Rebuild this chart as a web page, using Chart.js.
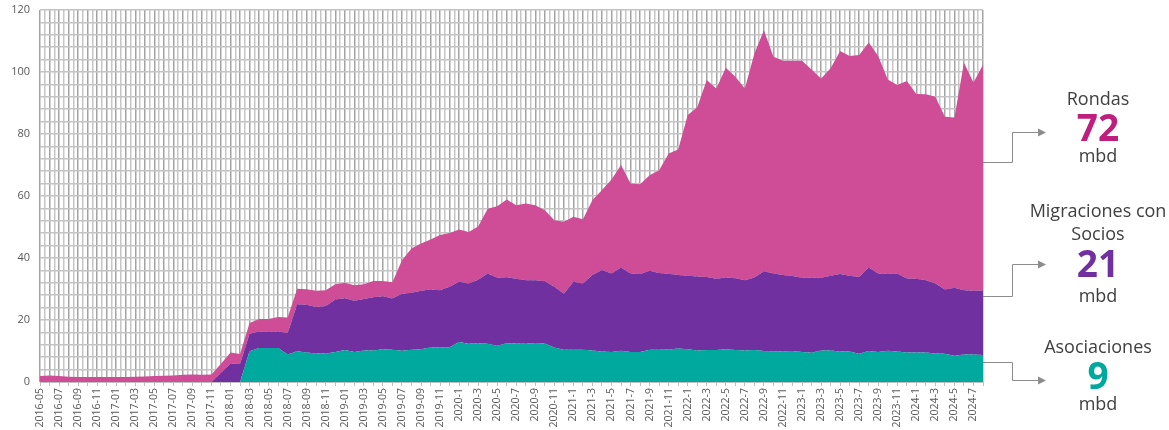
<!DOCTYPE html>
<html>
<head>
<meta charset="utf-8">
<script src="https://cdn.jsdelivr.net/npm/chart.js@4"></script>
<style>
  html, body { margin: 0; padding: 0; background: #ffffff; }
  canvas { display: block; }
</style>
</head>
<body>
<canvas id="chart" width="1169" height="430"></canvas>
<script>
// meses (eje X)
const months = [
  "2016-05","2016-06","2016-07","2016-08","2016-09","2016-10","2016-11","2016-12",
  "2017-01","2017-02","2017-03","2017-04","2017-05","2017-06","2017-07","2017-08","2017-09","2017-10","2017-11","2017-12",
  "2018-01","2018-02","2018-03","2018-04","2018-05","2018-06","2018-07","2018-08","2018-09","2018-10","2018-11","2018-12",
  "2019-01","2019-02","2019-03","2019-04","2019-05","2019-06","2019-07","2019-08","2019-09","2019-10","2019-11","2019-12",
  "2020-1","2020-2","2020-3","2020-4","2020-5","2020-6","2020-7","2020-8","2020-9","2020-10","2020-11","2020-12",
  "2021-1","2021-2","2021-3","2021-4","2021-5","2021-6","2021-7","2021-8","2021-9","2021-10","2021-11","2021-12",
  "2022-1","2022-2","2022-3","2022-4","2022-5","2022-6","2022-7","2022-8","2022-9","2022-10","2022-11","2022-12",
  "2023-1","2023-2","2023-3","2023-4","2023-5","2023-6","2023-7","2023-8","2023-9","2023-10","2023-11","2023-12",
  "2024-1","2024-2","2024-3","2024-4","2024-5","2024-6","2024-7","2024-8"
];

// producción por tipo de contrato (mbd)
const asociaciones = [
  0,0,0,0,0,0,0,0,0,0,
  0,0,0,0,0,0,0,0,0,0,
  0,0,9.9,11.0,11.0,11.0,8.9,9.9,9.5,9.2,
  9.2,9.7,10.3,9.7,10.2,10.2,10.6,10.4,10.1,10.4,
  10.6,11.1,11.2,11.2,12.9,12.3,12.5,12.3,11.7,12.5,
  12.4,12.3,12.6,12.4,11.1,10.4,10.4,10.4,10.2,9.8,
  9.7,10.1,9.7,9.7,10.4,10.4,10.5,10.8,10.6,10.2,
  10.3,10.3,10.6,10.3,10.2,10.3,10.0,9.9,9.9,10.0,
  9.7,9.4,10.2,10.2,9.8,9.8,9.1,10.0,9.7,10.1,
  9.8,9.5,9.5,9.5,9.2,9.1,8.5,8.9,8.9,8.7
];
const socios = [
  0,0,0,0,0,0,0,0,0,0,
  0,0,0,0,0,0,0,0,0,3.0,
  6.0,5.8,5.7,5.3,5.3,5.3,6.9,15.2,15.4,15.0,
  15.3,16.9,16.7,16.5,16.6,17.1,17.1,16.5,18.4,18.4,
  18.8,18.7,18.4,19.5,19.4,19.5,20.5,22.7,21.9,21.3,
  20.9,20.5,20.2,20.1,19.6,18.1,21.9,21.4,24.3,26.3,
  25.3,26.8,25.3,25.1,25.5,24.8,24.4,23.7,23.7,23.8,
  23.6,23.0,23.1,23.2,22.6,23.4,25.7,25.1,24.6,24.2,
  23.9,24.2,23.4,24.1,25.0,24.5,24.8,26.9,25.3,24.9,
  25.2,23.9,23.8,23.3,22.6,20.7,21.9,20.7,20.5,20.8
];
const rondas = [
  1.9,2.1,1.9,1.7,1.6,1.6,1.6,1.6,1.6,1.6,
  1.7,1.8,1.9,2.0,2.1,2.3,2.4,2.3,2.4,2.9,
  3.5,3.2,3.4,4.0,4.0,4.7,5.0,5.0,5.0,5.2,
  5.1,4.9,5.0,5.0,4.7,5.3,4.9,5.3,10.8,14.3,
  15.3,16.2,17.8,17.4,16.9,16.6,17.2,20.9,23.1,25.1,
  23.7,24.8,24.2,22.9,21.5,23.2,21.0,20.7,24.2,25.8,
  30.3,33.1,29.0,29.0,30.8,33.1,38.8,40.5,51.8,54.6,
  63.5,61.4,67.7,65.0,61.9,72.3,77.8,69.9,69.1,69.4,
  70.0,67.2,64.3,66.9,72.0,70.9,71.6,72.6,70.2,62.6,
  60.8,63.7,59.6,60.0,60.2,55.8,54.9,73.4,67.2,72.8
];

// textos de la derecha
const calloutNames = [["Rondas"], ["Migraciones con", "Socios"], ["Asociaciones"]];
const calloutValues = ["72", "21", "9"];

const colTeal = "#00A99D";
const colPurple = "#7030A0";
const colPink = "#CF4D97";

// flechas y etiquetas a la derecha del gráfico
const callouts = {
  id: "callouts",
  afterDraw(chart) {
    const ctx = chart.ctx;
    const y = chart.scales.y;
    const right = chart.chartArea.right;
    const cx = 1098;
    const items = [
      { from: y.getPixelForValue(71), to: 132, color: "#BE1E7E", textY: [100], numY: 130, unitY: 157 },
      { from: y.getPixelForValue(27.9), to: 264, color: colPurple, textY: [212, 235], numY: 266, unitY: 297 },
      { from: y.getPixelForValue(6.4), to: 380, color: colTeal, textY: [348], numY: 378, unitY: 405 }
    ];
    ctx.save();
    items.forEach((it, i) => {
      // conector
      ctx.strokeStyle = "#8c8c8c";
      ctx.lineWidth = 1;
      ctx.beginPath();
      ctx.moveTo(right, Math.round(it.from) + 0.5);
      ctx.lineTo(1012.5, Math.round(it.from) + 0.5);
      ctx.lineTo(1012.5, it.to + 0.5);
      ctx.lineTo(1039, it.to + 0.5);
      ctx.stroke();
      ctx.fillStyle = "#8c8c8c";
      ctx.beginPath();
      ctx.moveTo(1046, it.to + 0.5);
      ctx.lineTo(1038, it.to - 3.5);
      ctx.lineTo(1038, it.to + 4.5);
      ctx.closePath();
      ctx.fill();

      // textos
      ctx.textAlign = "center";
      ctx.textBaseline = "middle";
      ctx.fillStyle = "#404040";
      ctx.font = "18px 'Open Sans'";
      calloutNames[i].forEach((t, k) => ctx.fillText(t, cx, it.textY[k]));
      ctx.fillText("mbd", cx, it.unitY);
      ctx.fillStyle = it.color;
      ctx.font = "bold 37px 'Open Sans'";
      ctx.fillText(calloutValues[i], cx, it.numY);
    });
    ctx.restore();
  }
};

Chart.defaults.font.family = "'Open Sans', sans-serif";

new Chart(document.getElementById("chart"), {
  type: "line",
  data: {
    labels: months,
    datasets: [
      { label: "Asociaciones", data: asociaciones, backgroundColor: colTeal, fill: "origin" },
      { label: "Migraciones con Socios", data: socios, backgroundColor: colPurple, fill: "-1" },
      { label: "Rondas", data: rondas, backgroundColor: colPink, fill: "-1" }
    ]
  },
  options: {
    responsive: false,
    animation: false,
    events: [],
    layout: { padding: { top: 10, right: 186, left: 0, bottom: 0 } },
    elements: {
      line: { borderWidth: 0, tension: 0 },
      point: { radius: 0 }
    },
    plugins: {
      legend: { display: false },
      tooltip: { enabled: false }
    },
    scales: {
      x: {
        type: "category",
        grid: { drawOnChartArea: false, color: "#bfbfbf", tickLength: 4 },
        border: { color: "#bfbfbf" },
        ticks: {
          autoSkip: false,
          minRotation: 90,
          maxRotation: 90,
          padding: 2,
          color: "#595959",
          font: { size: 10.5 },
          callback: (v, i) => (i % 2 === 0 ? months[i] : "")
        },
        afterFit: s => { s.height = 48; s.paddingLeft = 0; s.paddingRight = 0; }
      },
      xg: {
        type: "linear",
        position: "bottom",
        min: 0,
        max: 99,
        ticks: { display: false, stepSize: 0.5, maxTicksLimit: 1000 },
        grid: {
          drawTicks: false,
          lineWidth: 1.5,
          color: c => (c.index % 2 === 0 ? "#a3a3a3" : "#c6c6c6")
        },
        border: { display: false },
        afterFit: s => { s.height = 0; s.paddingLeft = 0; s.paddingRight = 0; }
      },
      y: {
        stacked: true,
        min: 0,
        max: 120,
        grid: { drawTicks: false, color: "#c4c4c4", lineWidth: 1.5 },
        border: { display: false },
        ticks: {
          stepSize: 4,
          autoSkip: false,
          padding: 10,
          color: "#595959",
          font: { size: 11 },
          callback: v => (v % 20 === 0 ? v : "")
        },
        afterFit: s => { s.width = 40; s.paddingTop = 0; s.paddingBottom = 0; }
      }
    }
  },
  plugins: [callouts]
});
</script>
</body>
</html>
